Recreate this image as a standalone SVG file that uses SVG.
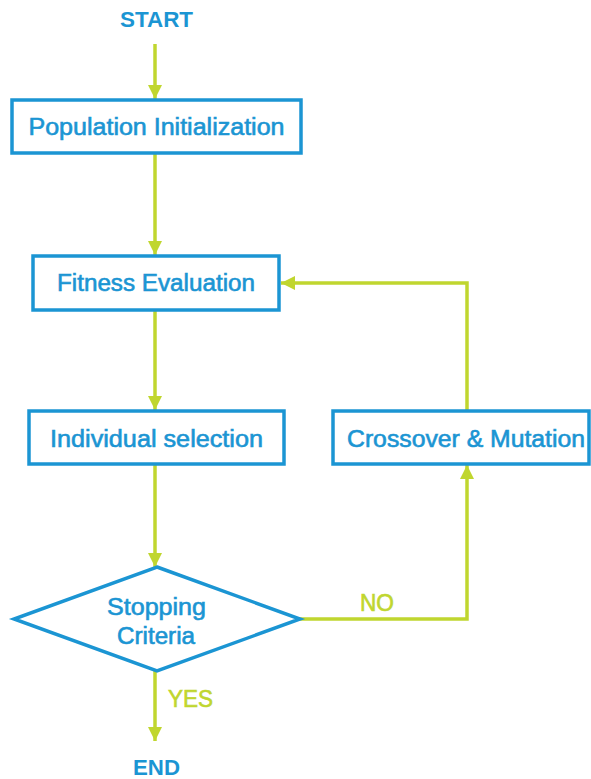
<svg xmlns="http://www.w3.org/2000/svg" width="591" height="779" viewBox="0 0 591 779">
<style>
.box{fill:#fff;stroke:#1B95D3;stroke-width:3.5}
.lbl{font-family:"Liberation Sans",Arial,sans-serif;font-size:23px;fill:#1B95D3;stroke:#1B95D3;stroke-width:0.6;text-anchor:middle}
.term{font-family:"Liberation Sans",Arial,sans-serif;font-size:22px;font-weight:bold;fill:#1B95D3;text-anchor:middle}
.edge{fill:none;stroke:#C0D62F;stroke-width:3.5}
.elbl{font-family:"Liberation Sans",Arial,sans-serif;font-size:23px;fill:#C0D62F;stroke:#C0D62F;stroke-width:0.6}
</style>
<defs>
<marker id="ah" markerUnits="userSpaceOnUse" markerWidth="16" markerHeight="16" refX="15" refY="8" orient="auto">
<path d="M1,1 L15,8 L1,15 z" fill="#C0D62F"/>
</marker>
</defs>
<rect width="591" height="779" fill="#fff"/>
<g id="connectors">
<line class="edge" x1="155" y1="44" x2="155" y2="99" marker-end="url(#ah)"/>
<line class="edge" x1="155" y1="153" x2="155" y2="255" marker-end="url(#ah)"/>
<line class="edge" x1="155" y1="310" x2="155" y2="410" marker-end="url(#ah)"/>
<line class="edge" x1="155" y1="464" x2="155" y2="567" marker-end="url(#ah)"/>
<polyline class="edge" points="467,410 467,283 281,283" marker-end="url(#ah)"/>
<polyline class="edge" points="300,619 467,619 467,465" marker-end="url(#ah)"/>
<line class="edge" x1="155" y1="671" x2="155" y2="741" marker-end="url(#ah)"/>
<text class="elbl" x="360" y="611" textLength="34" lengthAdjust="spacingAndGlyphs">NO</text>
<text class="elbl" x="168" y="707" textLength="45" lengthAdjust="spacingAndGlyphs">YES</text>
</g>
<g id="start"><text class="term" x="156.5" y="27" textLength="73" lengthAdjust="spacingAndGlyphs">START</text></g>
<g id="init">
<rect class="box" x="12" y="100" width="289" height="53"/>
<text class="lbl" x="156.5" y="135" textLength="256" lengthAdjust="spacingAndGlyphs">Population Initialization</text>
</g>
<g id="fitness">
<rect class="box" x="33" y="256" width="246" height="54"/>
<text class="lbl" x="156" y="291" textLength="198" lengthAdjust="spacingAndGlyphs">Fitness Evaluation</text>
</g>
<g id="selection">
<rect class="box" x="29" y="411" width="255" height="53"/>
<text class="lbl" x="156.5" y="447" textLength="213" lengthAdjust="spacingAndGlyphs">Individual selection</text>
</g>
<g id="crossover">
<rect class="box" x="333" y="411" width="256" height="53"/>
<text class="lbl" x="466" y="447" textLength="238" lengthAdjust="spacingAndGlyphs">Crossover &amp; Mutation</text>
</g>
<g id="stopping">
<polygon class="box" points="157,567 300,619 157,671 14,619"/>
<text class="lbl" x="156.5" y="615" textLength="99" lengthAdjust="spacingAndGlyphs">Stopping</text>
<text class="lbl" x="156" y="644" textLength="78" lengthAdjust="spacingAndGlyphs">Criteria</text>
</g>
<g id="end"><text class="term" x="156.5" y="775" textLength="47" lengthAdjust="spacingAndGlyphs">END</text></g>
</svg>
